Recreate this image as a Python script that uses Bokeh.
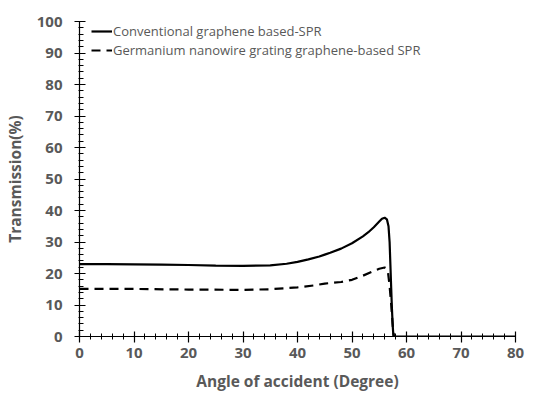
from bokeh.plotting import figure
from bokeh.models import Range1d, Legend, LegendItem, FixedTicker
from bokeh.embed import file_html
from bokeh.resources import INLINE

conv_x = [0, 5, 10, 15, 20, 25, 30, 35, 38, 40, 42, 44, 45, 46, 48, 50, 52, 53, 54, 55, 55.5, 56, 56.4, 56.7, 56.9, 57.0, 57.1, 57.2, 57.3, 57.45, 57.6, 60, 70, 80]
conv_y = [23.0, 23.0, 22.9, 22.8, 22.7, 22.5, 22.4, 22.6, 23.1, 23.7, 24.5, 25.4, 26.0, 26.6, 27.9, 29.6, 31.8, 33.1, 34.7, 36.5, 37.4, 37.7, 37.2, 35.0, 30.0, 25.0, 20.0, 15.0, 10.0, 4.0, 0.0, 0.0, 0.0, 0.0]
ge_x = [0, 10, 20, 30, 35, 40, 43, 45, 48, 50, 52, 54, 55, 56, 56.3, 56.6, 56.9, 57.2, 57.5, 57.7]
ge_y = [15.1, 15.1, 14.9, 14.8, 15.0, 15.6, 16.2, 16.8, 17.3, 18.0, 19.3, 20.8, 21.5, 21.9, 21.6, 20.5, 16.0, 10.0, 3.0, 0.0]

x_ticks = [0, 10, 20, 30, 40, 50, 60, 70, 80]
y_ticks = [0, 10, 20, 30, 40, 50, 60, 70, 80, 90, 100]
labels = ["Conventional graphene based-SPR", "Germanium nanowire grating graphene-based SPR"]

grey = "#595959"
font = "Open Sans"

p = figure(width=528, height=396, output_backend="svg", toolbar_location=None,
           x_range=Range1d(0, 80), y_range=Range1d(0, 100),
           min_border_left=79, min_border_right=13, min_border_top=21, min_border_bottom=60)
p.outline_line_color = None
p.grid.grid_line_color = None
p.background_fill_color = "white"
p.border_fill_color = "white"

r1 = p.line(conv_x, conv_y, line_color="black", line_width=2.2)
r2 = p.line(ge_x, ge_y, line_color="black", line_width=2.2, line_dash="9 6")

p.xaxis.ticker = FixedTicker(ticks=x_ticks, minor_ticks=list(range(0, 81, 2)))
p.yaxis.ticker = FixedTicker(ticks=y_ticks, minor_ticks=list(range(0, 101, 2)))

for ax in (p.xaxis[0], p.yaxis[0]):
    ax.axis_line_color = "black"
    ax.axis_line_width = 1.2
    ax.major_tick_line_color = "black"
    ax.minor_tick_line_color = "black"
    ax.major_tick_line_width = 1.2
    ax.minor_tick_line_width = 1
    ax.major_label_text_font = font
    ax.major_label_text_font_style = "bold"
    ax.major_label_text_font_size = "15px"
    ax.major_label_text_color = grey
    ax.axis_label_text_font = font
    ax.axis_label_text_font_style = "bold"
    ax.axis_label_text_font_size = "15.5px"
    ax.axis_label_text_color = grey

p.xaxis.major_tick_in = 5
p.xaxis.major_tick_out = 6
p.xaxis.minor_tick_in = 3
p.xaxis.minor_tick_out = 3
p.yaxis.major_tick_in = 6
p.yaxis.major_tick_out = 5
p.yaxis.minor_tick_in = 4
p.yaxis.minor_tick_out = 1
p.yaxis.major_label_standoff = 12
p.xaxis.major_label_standoff = 5
p.xaxis.axis_label = "Angle of accident (Degree)"
p.yaxis.axis_label = "Transmission(%)"
p.xaxis.axis_label_standoff = 9
p.yaxis.axis_label_standoff = 8

legend = Legend(items=[LegendItem(label=labels[0], renderers=[r1]),
                       LegendItem(label=labels[1], renderers=[r2])],
                location=(12, 277))
legend.border_line_color = None
legend.background_fill_alpha = 0
legend.label_text_font = font
legend.label_text_font_size = "13px"
legend.label_text_color = grey
legend.glyph_width = 21
legend.glyph_height = 14
legend.label_height = 14
legend.spacing = 1
legend.label_standoff = 1
legend.padding = 0
legend.margin = 0
p.add_layout(legend)

open("out.html", "w").write(file_html(p, INLINE))
